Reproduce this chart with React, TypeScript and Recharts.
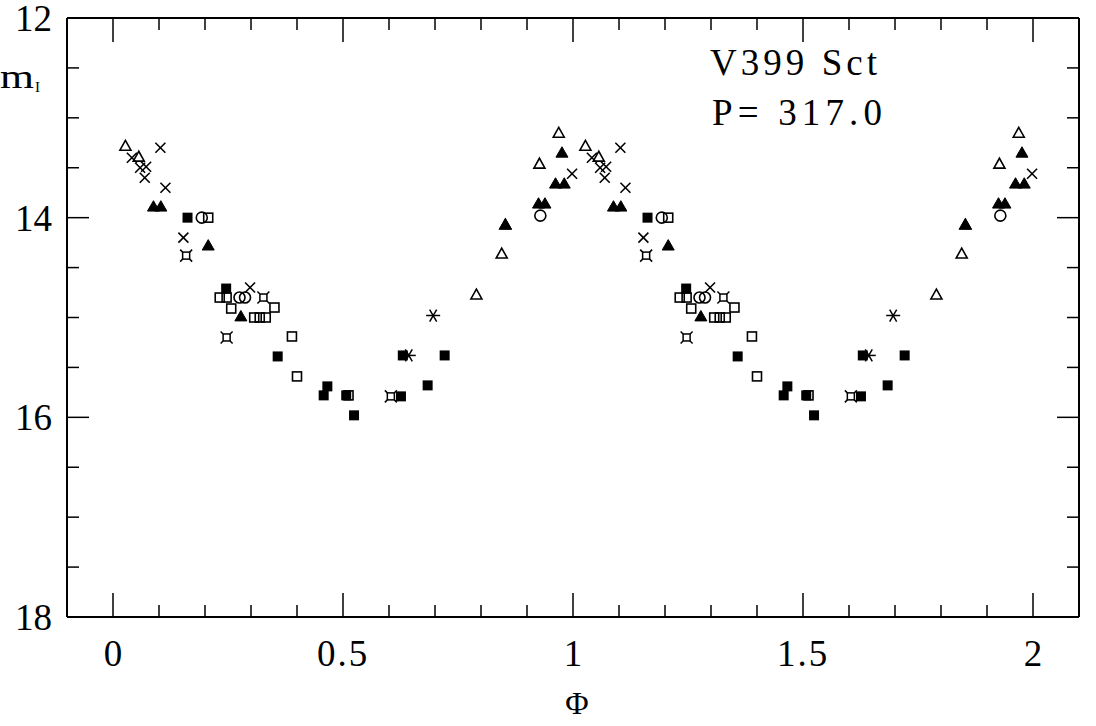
import React from 'react';
import { ScatterChart, Scatter, XAxis, YAxis } from 'recharts';

// phase / magnitude pairs for one cycle, plotted again at phase + 1
const openTriangles: [number, number][] = [
  [0.027, 13.28], [0.056, 13.39], [0.79, 14.77], [0.845, 14.36],
  [0.853, 14.07], [0.927, 13.46], [0.969, 13.15],
];
const filledTriangles: [number, number][] = [
  [0.088, 13.89], [0.104, 13.89], [0.207, 14.28], [0.278, 14.99],
  [0.853, 14.07], [0.925, 13.86], [0.939, 13.86], [0.962, 13.66],
  [0.981, 13.66], [0.976, 13.35],
];
const crosses: [number, number][] = [
  [0.041, 13.4], [0.059, 13.5], [0.072, 13.49], [0.069, 13.6],
  [0.103, 13.3], [0.114, 13.7], [0.153, 14.2], [0.298, 14.7], [0.998, 13.56],
];
const filledSquares: [number, number][] = [
  [0.162, 14.0], [0.246, 14.71], [0.358, 15.39], [0.458, 15.78],
  [0.466, 15.69], [0.507, 15.78], [0.524, 15.98], [0.626, 15.79],
  [0.63, 15.38], [0.684, 15.68], [0.721, 15.38],
];
const openSquares: [number, number][] = [
  [0.207, 14.0], [0.232, 14.8], [0.247, 14.8], [0.257, 14.91],
  [0.307, 15.0], [0.319, 15.0], [0.332, 15.0], [0.351, 14.9],
  [0.389, 15.19], [0.4, 15.59], [0.512, 15.78],
];
const openCircles: [number, number][] = [
  [0.193, 14.0], [0.275, 14.8], [0.287, 14.8], [0.929, 13.98],
];
const skeletalSquares: [number, number][] = [
  [0.159, 14.38], [0.247, 15.2], [0.327, 14.8], [0.604, 15.79],
];
const asterisks: [number, number][] = [
  [0.643, 15.38], [0.696, 14.98],
];

const xTicks = [0, 0.1, 0.2, 0.3, 0.4, 0.5, 0.6, 0.7, 0.8, 0.9, 1, 1.1, 1.2, 1.3, 1.4, 1.5, 1.6, 1.7, 1.8, 1.9, 2];
const xLabels = [0, 0.5, 1, 1.5, 2];
const yTicks = [12, 12.5, 13, 13.5, 14, 14.5, 15, 15.5, 16, 16.5, 17, 17.5, 18];
const yLabels = [12, 14, 16, 18];

const FONT = '"Liberation Serif", "DejaVu Serif", serif';
const W = 1096;
const H = 726;

const twoCycles = (pts: [number, number][]) => [
  ...pts.map(([p, m]) => ({ x: p, y: m })),
  ...pts.map(([p, m]) => ({ x: p + 1, y: m })),
];

const isMajor = (v: number, list: number[]) => list.some((l) => Math.abs(l - v) < 1e-6);

const Marker = ({ cx, cy, kind }: any) => {
  if (cx == null || cy == null) return null;
  const s = 5.5;
  const sw = 1.6;
  switch (kind) {
    case 'openTri':
      return <polygon points={`${cx},${cy - s} ${cx - s},${cy + s * 0.8} ${cx + s},${cy + s * 0.8}`} fill="none" stroke="#000" strokeWidth={sw} />;
    case 'fillTri':
      return <polygon points={`${cx},${cy - s - 0.5} ${cx - s - 0.5},${cy + s * 0.8} ${cx + s + 0.5},${cy + s * 0.8}`} fill="#000" stroke="#000" strokeWidth={1} />;
    case 'cross':
      return (
        <g stroke="#000" strokeWidth={sw}>
          <line x1={cx - 5} y1={cy - 5} x2={cx + 5} y2={cy + 5} />
          <line x1={cx - 5} y1={cy + 5} x2={cx + 5} y2={cy - 5} />
        </g>
      );
    case 'fillSq':
      return <rect x={cx - 5} y={cy - 5} width={10} height={10} fill="#000" />;
    case 'openSq':
      return <rect x={cx - 4.5} y={cy - 4.5} width={9} height={9} fill="none" stroke="#000" strokeWidth={sw} />;
    case 'circle':
      return <circle cx={cx} cy={cy} r={5.5} fill="none" stroke="#000" strokeWidth={sw} />;
    case 'skel':
      return (
        <g stroke="#000" strokeWidth={1.5} fill="none">
          <rect x={cx - 3.5} y={cy - 3.5} width={7} height={7} />
          <line x1={cx - 3.5} y1={cy - 3.5} x2={cx - 6} y2={cy - 6} />
          <line x1={cx + 3.5} y1={cy - 3.5} x2={cx + 6} y2={cy - 6} />
          <line x1={cx - 3.5} y1={cy + 3.5} x2={cx - 6} y2={cy + 6} />
          <line x1={cx + 3.5} y1={cy + 3.5} x2={cx + 6} y2={cy + 6} />
        </g>
      );
    case 'star':
      return (
        <g stroke="#000" strokeWidth={1.5}>
          <line x1={cx - 7} y1={cy} x2={cx + 7} y2={cy} />
          <line x1={cx - 3.5} y1={cy - 6} x2={cx + 3.5} y2={cy + 6} />
          <line x1={cx + 3.5} y1={cy - 6} x2={cx - 3.5} y2={cy + 6} />
        </g>
      );
    default:
      return null;
  }
};

const BottomTick = ({ x, y, payload }: any) => {
  const major = isMajor(payload.value, xLabels);
  return (
    <g>
      <line x1={x} y1={y} x2={x} y2={y - (major ? 24 : 12)} stroke="#000" strokeWidth={1.5} />
      {major && (
        <text x={x} y={y + 49} textAnchor="middle" fontFamily={FONT} fontSize={37} letterSpacing={payload.value % 1 ? 2 : 0} fill="#000">
          {String(payload.value)}
        </text>
      )}
    </g>
  );
};

const TopTick = ({ x, y, payload }: any) => {
  const major = isMajor(payload.value, xLabels);
  return <line x1={x} y1={y} x2={x} y2={y + (major ? 24 : 12)} stroke="#000" strokeWidth={1.5} />;
};

const LeftTick = ({ x, y, payload }: any) => {
  const major = isMajor(payload.value, yLabels);
  return (
    <g>
      <line x1={x} y1={y} x2={x + (major ? 22 : 12)} y2={y} stroke="#000" strokeWidth={1.5} />
      {major && (
        <text x={x - 15} y={y + 13} textAnchor="end" fontFamily={FONT} fontSize={37} fill="#000">
          {String(payload.value)}
        </text>
      )}
    </g>
  );
};

const RightTick = ({ x, y, payload }: any) => {
  const major = isMajor(payload.value, yLabels);
  return <line x1={x} y1={y} x2={x - (major ? 22 : 12)} y2={y} stroke="#000" strokeWidth={1.5} />;
};

const series: [string, [number, number][]][] = [
  ['openSq', openSquares],
  ['circle', openCircles],
  ['skel', skeletalSquares],
  ['star', asterisks],
  ['fillSq', filledSquares],
  ['cross', crosses],
  ['openTri', openTriangles],
  ['fillTri', filledTriangles],
];

export default function App() {
  const axisLine = { stroke: '#000', strokeWidth: 2 };
  return (
    <div style={{ position: 'absolute', left: 0, top: 0, width: W, height: H, background: '#fff' }}>
      <ScatterChart width={W} height={H} margin={{ top: 17, right: 16, bottom: 49, left: 7 }}>
        <XAxis
          dataKey="x"
          type="number"
          domain={[-0.1, 2.1]}
          ticks={xTicks}
          interval={0}
          height={60}
          tickSize={0}
          tickMargin={0}
          axisLine={axisLine}
          tickLine={false}
          tick={<BottomTick />}
          allowDataOverflow
        />
        <XAxis
          xAxisId="top"
          dataKey="x"
          orientation="top"
          type="number"
          domain={[-0.1, 2.1]}
          ticks={xTicks}
          interval={0}
          height={1}
          tickSize={0}
          tickMargin={0}
          axisLine={axisLine}
          tickLine={false}
          tick={<TopTick />}
          allowDataOverflow
        />
        <YAxis
          dataKey="y"
          type="number"
          domain={[12, 18]}
          reversed
          ticks={yTicks}
          interval={0}
          width={60}
          tickSize={0}
          tickMargin={0}
          axisLine={axisLine}
          tickLine={false}
          tick={<LeftTick />}
          allowDataOverflow
        />
        <YAxis
          yAxisId="right"
          dataKey="y"
          orientation="right"
          type="number"
          domain={[12, 18]}
          reversed
          ticks={yTicks}
          interval={0}
          width={1}
          tickSize={0}
          tickMargin={0}
          axisLine={axisLine}
          tickLine={false}
          tick={<RightTick />}
          allowDataOverflow
        />
        {series.map(([kind, pts]) => (
          <Scatter
            key={kind}
            data={twoCycles(pts)}
            isAnimationActive={false}
            shape={(p: any) => <Marker cx={p.cx} cy={p.cy} kind={kind} />}
          />
        ))}
        {/* invisible series so the top / right axes get drawn */}
        <Scatter
          xAxisId="top"
          yAxisId="right"
          data={twoCycles(openTriangles)}
          isAnimationActive={false}
          shape={() => <g />}
        />
      </ScatterChart>
      <svg width={W} height={H} style={{ position: 'absolute', left: 0, top: 0, pointerEvents: 'none' }}>
        <text x={0} y={88} fontFamily={FONT} fontSize={34} textLength={34} lengthAdjust="spacingAndGlyphs" fill="#000">m</text>
        <text x={35} y={92} fontFamily={FONT} fontSize={15} fill="#000">I</text>
        <text x={577} y={714} textAnchor="middle" fontFamily={FONT} fontSize={32} fill="#000">Φ</text>
        <text x={710} y={75} fontFamily={FONT} fontSize={37} textLength={167} fill="#000">V399 Sct</text>
        <text x={712} y={125} fontFamily={FONT} fontSize={37} textLength={170} fill="#000">P= 317.0</text>
      </svg>
    </div>
  );
}
